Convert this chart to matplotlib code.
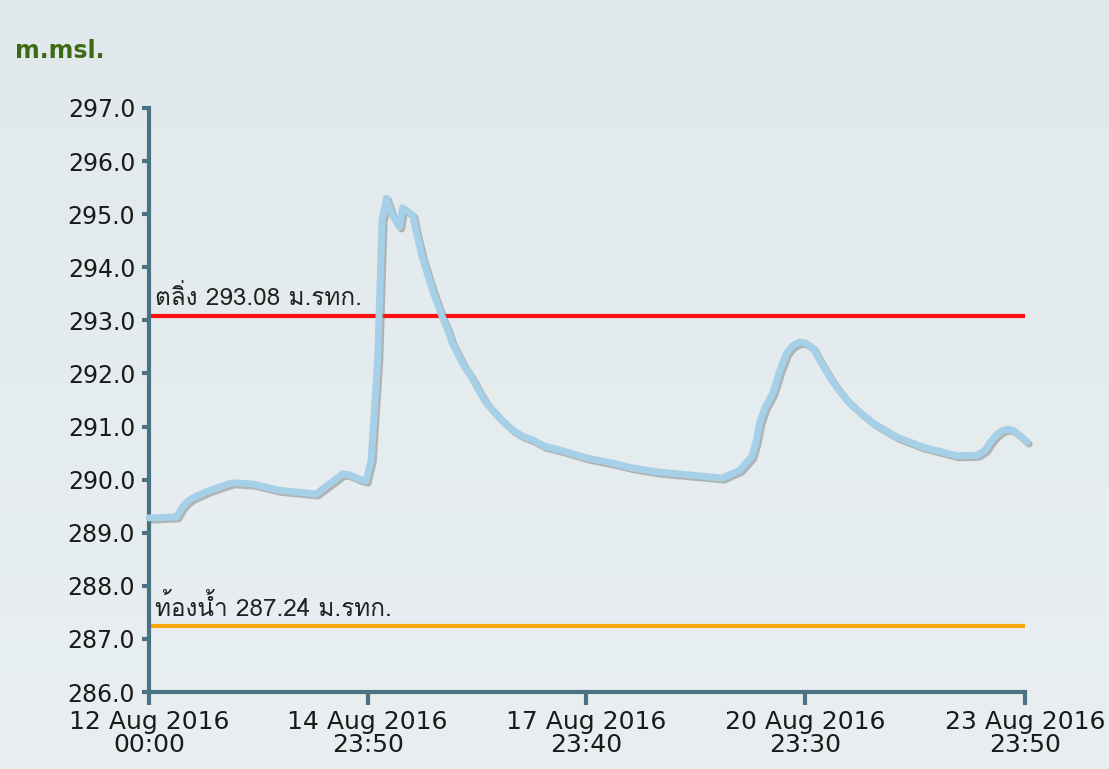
import numpy as np
import pandas as pd
import matplotlib
matplotlib.use('Agg')
import matplotlib.pyplot as plt
import matplotlib.dates as mdates
import matplotlib.patheffects as pe
from matplotlib import font_manager
from matplotlib.ft2font import FT2Font

# datos: dias desde 12 Aug 2016 00:00 y nivel (m.msl.)
dias = [0.00, 0.04, 0.38, 0.45, 0.52, 0.59, 0.78, 0.96, 1.14, 1.41, 1.78, 2.29, 2.43, 2.54,
        2.65, 2.74, 2.88, 2.97,
        3.04, 3.13, 3.19, 3.25, 3.33, 3.43, 3.47, 3.61, 3.66, 3.74, 3.88, 4.02,
        4.09, 4.15, 4.22, 4.28, 4.33, 4.39, 4.46, 4.52, 4.61, 4.70, 4.80, 4.98, 5.11,
        5.25, 5.41, 5.62, 5.99, 6.35, 6.62, 6.99,
        7.54, 7.85, 8.09, 8.25, 8.31, 8.36, 8.43, 8.54, 8.64, 8.73, 8.81, 8.91, 8.99,
        9.09, 9.18, 9.32, 9.43, 9.55, 9.73, 9.91,
        10.24, 10.60, 11.06, 11.34, 11.45, 11.51, 11.60, 11.69, 11.76, 11.83, 11.93, 12.02]
nivel = [289.28, 289.28, 289.30, 289.47, 289.58, 289.65, 289.77, 289.86, 289.94, 289.92, 289.80, 289.73, 289.88, 289.99,
         290.11, 290.09, 290.01, 289.97,
         290.37, 292.25, 294.89, 295.30, 294.98, 294.76, 295.12, 294.98, 294.65, 294.19, 293.57, 293.04,
         292.82, 292.57, 292.39, 292.22, 292.10, 291.98, 291.82, 291.66, 291.46, 291.31, 291.16, 290.93, 290.82,
         290.75, 290.63, 290.56, 290.41, 290.31, 290.22, 290.14,
         290.07, 290.03, 290.18, 290.43, 290.71, 291.07, 291.35, 291.63, 292.07, 292.39, 292.52, 292.59, 292.57,
         292.48, 292.25, 291.93, 291.71, 291.50, 291.27, 291.07,
         290.80, 290.61, 290.45, 290.46, 290.56, 290.69, 290.84, 290.93, 290.95, 290.93, 290.82, 290.71]

inicio = '2016-08-12 00:00'
fin = '2016-08-23 23:50'
ticks_x = ['2016-08-12 00:00', '2016-08-14 23:50', '2016-08-17 23:40',
           '2016-08-20 23:30', '2016-08-23 23:50']
ticks_y = [286, 287, 288, 289, 290, 291, 292, 293, 294, 295, 296, 297]

nivel_ribera = 293.08
nivel_fondo = 287.24
texto_ribera = 'ตลิ่ง 293.08 ม.รทก.'
texto_fondo = 'ท้องน้ำ 287.24 ม.รทก.'


def buscar_fuente_thai():
    """Busca una fuente instalada con glifos tailandeses."""
    for f in font_manager.fontManager.ttflist:
        try:
            if 0x0E15 in FT2Font(f.fname).get_charmap():
                return f.name
        except Exception:
            pass
    return 'DejaVu Sans'


fuente_thai = buscar_fuente_thai()
color_eje = '#4b7282'

fig = plt.figure(figsize=(11.09, 7.69), dpi=100)
# fondo con degradado suave
fondo = fig.add_axes([0, 0, 1, 1], zorder=-10)
grad = np.linspace(0, 1, 256).reshape(-1, 1)
fondo.imshow(grad, aspect='auto', cmap=matplotlib.colors.LinearSegmentedColormap.from_list(
    'f', ['#e1e9ec', '#e9eff1']), extent=[0, 1, 0, 1])
fondo.axis('off')

ax = fig.add_axes([0.1344, 0.1001, 0.7899, 0.7595])
ax.patch.set_alpha(0)

t0 = pd.Timestamp(inicio)
fechas = t0 + pd.to_timedelta(dias, unit='D')
t_fin = pd.Timestamp(fin)

ax.axhline(nivel_ribera, color='#ff1010', lw=3, zorder=2)
ax.axhline(nivel_fondo, color='#f7a800', lw=3, zorder=2)

ax.plot(fechas, nivel, color='#a6cfe8', lw=5, solid_capstyle='round', solid_joinstyle='round',
        zorder=3, clip_on=False,
        path_effects=[pe.SimpleLineShadow(offset=(1.5, -1.5), shadow_color='#707070', alpha=0.45),
                      pe.Normal()])

dx = pd.Timedelta(hours=1.8)
ax.text(t0 + dx, nivel_ribera + 0.2, texto_ribera, fontsize=17.5, color='#222222',
        family=[fuente_thai, 'DejaVu Sans'], va='baseline')
ax.text(t0 + dx, nivel_fondo + 0.2, texto_fondo, fontsize=17.5, color='#222222',
        family=[fuente_thai, 'DejaVu Sans'], va='baseline')

ax.set_xlim(t0, t_fin)
ax.set_ylim(286, 297)
ax.set_yticks(ticks_y)
ax.set_yticklabels([f'{v:.1f}' for v in ticks_y])
ax.set_xticks(pd.to_datetime(ticks_x))
ax.xaxis.set_major_formatter(mdates.DateFormatter('%d %b %Y\n%H:%M'))

for lado in ['top', 'right']:
    ax.spines[lado].set_visible(False)
for lado in ['left', 'bottom']:
    ax.spines[lado].set_color(color_eje)
    ax.spines[lado].set_linewidth(3)

ax.tick_params(axis='y', length=5, width=3, color=color_eje, pad=5, labelsize=17, labelcolor='#1a1a1a')
ax.tick_params(axis='x', length=9, width=3, color=color_eje, pad=4, labelsize=18, labelcolor='#1a1a1a')
for lab in ax.get_xticklabels():
    lab.set_linespacing(0.95)

fig.text(0.0135, 0.925, 'm.msl.', fontsize=17, fontweight='bold', color='#3d6b12')

fig.savefig('out.png', dpi=100)
